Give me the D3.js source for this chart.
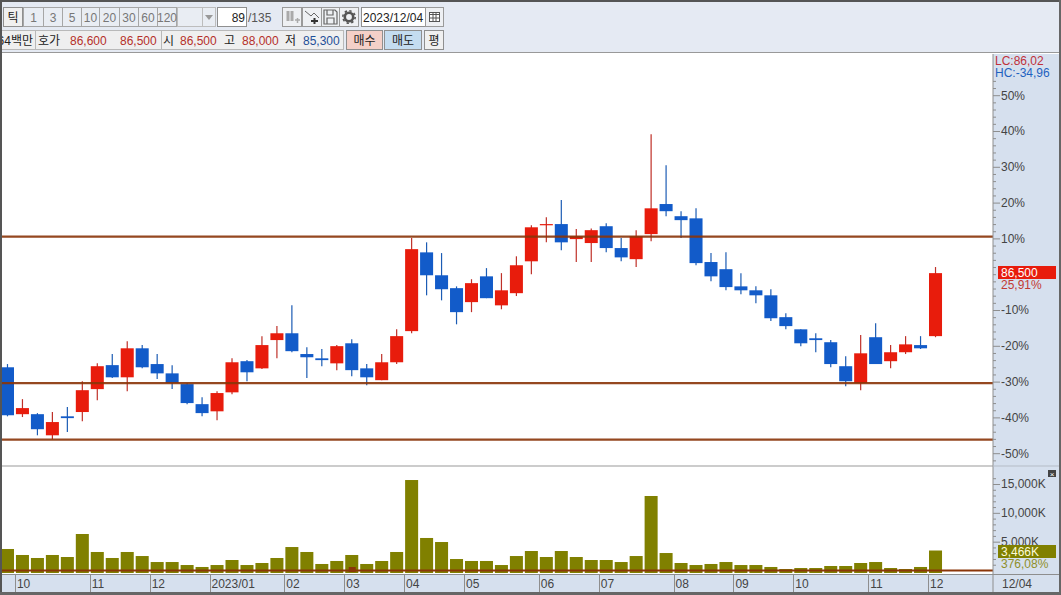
<!DOCTYPE html>
<html lang="ko"><head><meta charset="utf-8">
<script src="https://cdnjs.cloudflare.com/ajax/libs/d3/7.8.5/d3.min.js"></script>
<style>
html,body{margin:0;padding:0;background:#fff;overflow:hidden}
svg{display:block}
text{font-family:"Liberation Sans","Noto Sans CJK KR",sans-serif;font-size:12px;fill:#444}
</style></head><body>
<svg id="c" width="1061" height="595"></svg>
<script>
const highs=[-25.1,-34.9,-38.8,-38.5,-37.1,-29.9,-24.9,-22.3,-18.7,-19.8,-22.3,-25.4,-30.4,-34.4,-32.7,-23.5,-24.0,-17.3,-14.5,-8.7,-20.4,-20.9,-19.8,-18.2,-25.1,-22.3,-15.4,10.1,8.9,5.9,-3.4,-1.4,1.7,0.3,5.0,13.7,15.9,20.7,12.6,12.8,14.2,10.1,12.3,39.1,30.4,17.6,18.4,5.9,6.1,0.3,-3.4,-4.2,-10.9,-15.4,-16.5,-18.4,-22.9,-17.0,-13.7,-19.8,-17.3,-17.3,2.0];
const lows=[-39.7,-39.9,-45.0,-46.1,-44.1,-41.1,-35.2,-29.0,-32.7,-26.3,-29.3,-32.1,-36.3,-39.7,-40.8,-33.5,-29.9,-26.5,-23.5,-21.8,-29.0,-25.7,-26.8,-28.5,-31.0,-29.6,-25.1,-16.5,-5.9,-7.3,-14.0,-10.6,-6.7,-9.8,-6.1,0,8.9,6.7,3.4,3.4,6.1,3.6,2.0,9.2,16.2,10.1,2.5,-2.0,-4.5,-5.6,-8.1,-13.1,-15.4,-20.1,-21.8,-26.0,-31.3,-32.4,-25.1,-26.3,-22.3,-20.9,-17.6];
const opens=[-26.0,-39.1,-39.1,-45.0,-39.7,-38.5,-32.1,-25.4,-28.8,-20.7,-25.1,-27.7,-30.7,-36.3,-38.3,-33.0,-24.3,-26.3,-18.4,-16.5,-22.3,-23.5,-24.9,-19.3,-26.3,-29.6,-24.6,-15.9,6.1,-0.3,-3.9,-7.8,-0.6,-8.7,-5.3,3.6,13.7,14.0,9.8,8.7,13.4,7.3,4.2,11.2,19.6,16.2,15.6,3.4,1.4,-3.4,-4.5,-5.9,-12.0,-15.4,-17.9,-19.0,-25.7,-30.4,-17.6,-24.3,-21.8,-19.8,-17.3];
const closes=[-39.4,-37.4,-43.3,-41.3,-40.2,-32.4,-25.7,-28.8,-20.7,-26.0,-27.7,-30.4,-36.0,-38.8,-33.2,-24.6,-27.4,-19.8,-16.5,-21.5,-23.2,-24.0,-20.1,-26.8,-28.8,-24.6,-17.3,7.0,-0.3,-4.2,-10.6,-2.5,-6.7,-4.5,2.5,13.1,14.0,8.9,10.6,12.3,7.3,4.7,10.6,18.4,17.6,15.1,3.1,-0.6,-3.6,-4.5,-5.9,-12.3,-14.5,-19.3,-18.4,-25.1,-29.9,-22.1,-25.1,-21.8,-19.6,-20.7,0.3];
const volumes=[3730,2690,2170,2690,2340,6330,3210,2170,3210,2510,1470,1470,950,610,950,1820,950,1300,2170,4070,3210,1130,1650,2690,1130,1650,3210,15690,5640,4940,1990,1650,1650,950,2510,3380,2340,3380,2340,1820,1820,1470,2510,12920,3030,1300,950,1130,1470,950,950,610,260,430,430,780,780,1300,1470,430,260,610,3466];
const levelLines=[10.5,-30.4,-46.2];
const volumeLevel=[0];
const pctTicks=[50,40,30,20,10,-10,-20,-30,-40,-50];
const volTicks=[15000,10000,5000];
const monthIdx=[1,6,10,14,19,23,27,31,36,40,45,49,53,58,62];
const monthLabels=["10","11","12","2023/01","02","03","04","05","06","07","08","09","10","11","12"];
const periodLabels=["1","3","5","10","20","30","60","120"];

const RED="#e81c0c",BLUE="#125bc9",WRED="#bf3028",WBLUE="#1c5cb4",OLIVE="#808000",BROWN="#8a3508",PANEL="#d6e0ee",TOOL="#e5eaf3",GRAY="#8e8e8e";
const svg=d3.select("#c");
const rect=(g,x,y,w,h,f,s)=>g.append("rect").attr("x",x).attr("y",y).attr("width",w).attr("height",h).attr("fill",f).attr("stroke",s||"none");
const txt=(g,x,y,t,f,a,size)=>{const e=g.append("text").attr("x",x).attr("y",y).text(t).style("fill",f||"#444").attr("text-anchor",a||"start");if(size)e.style("font-size",size+"px");return e;};

const L=2,R=993,T1=54,B1=465,T2=467,B2=573;
const x=d3.scaleBand().domain(d3.range(highs.length)).range([0,943]).paddingInner(0.13).paddingOuter(0.065);
const xc=i=>x(i)+x.bandwidth()/2;
const y=d3.scaleLinear().domain([0,50]).range([274.2,95.2]);
const yV=d3.scaleLinear().domain([0,15000]).range([570.5,484]);
const vBase=yV.invert(B2);

// background
rect(svg,0,0,1061,595,"#fff");
rect(svg,0,0,1061,53,TOOL);
rect(svg,R,T1,1061-R,540-T1+60,PANEL);
rect(svg,0,574,1061,20,PANEL);
svg.append("defs").append("clipPath").attr("id","cp1").append("rect").attr("x",L).attr("y",T1).attr("width",R-L).attr("height",B1-T1);
d3.select("defs").append("clipPath").attr("id","cp2").append("rect").attr("x",L).attr("y",T2).attr("width",R-L).attr("height",B2-T2);

// candles
const pane=svg.append("g").attr("clip-path","url(#cp1)");
const idx=d3.range(highs.length);
const isUp=i=>closes[i]>=opens[i];
pane.selectAll("line.w").data(idx).join("line").attr("class","w")
 .attr("x1",xc).attr("x2",xc).attr("y1",i=>y(highs[i])).attr("y2",i=>y(lows[i]))
 .attr("stroke",i=>isUp(i)?WRED:WBLUE).attr("stroke-width",1.2);
pane.selectAll("rect.b").data(idx).join("rect").attr("class","b")
 .attr("x",i=>x(i)).attr("width",x.bandwidth())
 .attr("y",i=>y(Math.max(opens[i],closes[i])))
 .attr("height",i=>Math.max(1.2,Math.abs(y(opens[i])-y(closes[i]))))
 .attr("fill",i=>isUp(i)?RED:BLUE);
pane.selectAll("line.l").data(levelLines).join("line").attr("class","l")
 .attr("x1",L).attr("x2",R).attr("y1",y).attr("y2",y)
 .attr("stroke",BROWN).attr("stroke-width",2.2).attr("opacity",.9);

// volume
const vp=svg.append("g").attr("clip-path","url(#cp2)");
vp.selectAll("rect.v").data(idx).join("rect").attr("class","v")
 .attr("x",i=>x(i)).attr("width",x.bandwidth())
 .attr("y",i=>yV(volumes[i])).attr("height",i=>yV(vBase)-yV(volumes[i]))
 .attr("fill",OLIVE);
vp.selectAll("line.l").data(volumeLevel).join("line").attr("class","l")
 .attr("x1",L).attr("x2",R).attr("y1",yV).attr("y2",yV)
 .attr("stroke",BROWN).attr("stroke-width",2.2);
rect(vp,x(23)+3.5,567,7,5,BROWN);

// right axes
const axisG=svg.append("g").attr("class","ax");
const styleAxis=g=>{g.select(".domain").remove();g.selectAll("line").attr("stroke",GRAY);g.selectAll("text").style("fill","#444").style("font-size","12px");};
axisG.append("g").attr("transform",`translate(${R},0)`)
 .call(d3.axisRight(y).tickValues(d3.range(-52,56,2).filter(v=>v%10!==0||v===0)).tickSize(3).tickFormat(""))
 .call(styleAxis);
axisG.append("g").attr("transform",`translate(${R},0)`)
 .call(d3.axisRight(y).tickValues(pctTicks).tickSize(7).tickPadding(1).tickFormat(d=>d+"%"))
 .call(styleAxis);
axisG.append("g").attr("transform",`translate(${R},0)`)
 .call(d3.axisRight(yV).tickValues(d3.range(0,17000,1000).filter(v=>v%5000!==0)).tickSize(3).tickFormat(""))
 .call(styleAxis);
axisG.append("g").attr("transform",`translate(${R},0)`)
 .call(d3.axisRight(yV).tickValues(volTicks).tickSize(7).tickPadding(1).tickFormat(d=>d3.format(",")(d)+"K"))
 .call(styleAxis);
svg.append("line").attr("x1",R).attr("x2",R).attr("y1",T1).attr("y2",592).attr("stroke",GRAY);

// price & volume flags
rect(svg,998,266,58,13,RED);
txt(svg,1001,277,"86,500","#fff");
txt(svg,1001,289,"25,91%","#c23a34");
rect(svg,998,545,58,13,OLIVE);
txt(svg,1001,556,"3,466K","#fbfbd8");
txt(svg,1001,568,"376,08%","#8f8f2a");
txt(svg,995,65,"LC:86,02","#c0303a");
txt(svg,995,77,"HC:-34,96","#1f62c0");
rect(svg,1048,470,8,7,"#444");
txt(svg,1052,476.5,"×","#fff","middle",8);

// date strip
svg.append("line").attr("x1",0).attr("x2",1061).attr("y1",574.5).attr("y2",574.5).attr("stroke",GRAY);
svg.selectAll("line.m").data(monthIdx).join("line").attr("class","m")
 .attr("x1",i=>Math.round(x(i))-.5).attr("x2",i=>Math.round(x(i))-.5).attr("y1",575).attr("y2",592).attr("stroke",GRAY);
svg.selectAll("text.m").data(monthIdx).join("text").attr("class","m")
 .attr("x",i=>x(i)+1).attr("y",588).text((d,i)=>monthLabels[i]);
txt(svg,1002,588,"12/04");

// pane separators
svg.append("line").attr("x1",0).attr("x2",1061).attr("y1",52.5).attr("y2",52.5).attr("stroke","#999");
svg.append("line").attr("x1",0).attr("x2",R).attr("y1",466).attr("y2",466).attr("stroke","#999");
svg.append("line").attr("x1",R).attr("x2",1061).attr("y1",466).attr("y2",466).attr("stroke","#b5bcc6");

// toolbar
const tb=svg.append("g");
const btn=(x0,y0,w,h,t,opt={})=>{rect(tb,x0+.5,y0+.5,w-1,h-1,opt.fill||"#f0f0f0",opt.stroke||"#8f8f8f");if(t)txt(tb,x0+w/2,y0+h-5,t,opt.color||"#222","middle",opt.size);};
btn(3,7,20,20,"틱");
const per=[23,43,62,81,99,119,138,157,176];
periodLabels.forEach((t,i)=>btn(per[i],7,per[i+1]-per[i]+1,20,t,{fill:"#e9edf3",stroke:"#a6a6a6",color:"#777"}));
rect(tb,177.5,7.5,25,19,"#e9edf3","#bdbdbd");
rect(tb,202.5,7.5,13,19,"#e9edf3","#bdbdbd");
tb.append("path").attr("d","M205,15h8l-4,5z").attr("fill","#999");
rect(tb,217.5,7.5,29,19,"#fff","#8f8f8f");
txt(tb,245,22,"89","#222","end");
txt(tb,248,22,"/135","#555");
[282,302,321,339].forEach(a=>rect(tb,a+.5,7.5,19,19,"#eef0f3","#9a9a9a"));
tb.append("path").attr("d","M288,11v10M292,11v10").attr("stroke","#aaa").attr("stroke-width",3);
tb.append("path").attr("d","M295,20h5M297.5,18v5").attr("stroke","#aaa").attr("stroke-width",1.5);
tb.append("path").attr("d","M305,11l6,5 3,-3 5,5").attr("stroke","#666").attr("fill","none");
tb.append("path").attr("d","M311,21h7M314.5,18v6").attr("stroke","#333").attr("stroke-width",2);
tb.append("path").attr("d","M324,10h11l2,2v12h-13zM327,10v5h6v-5M327,24v-6h7v6").attr("stroke","#666").attr("stroke-width",1.2).attr("fill","none");
tb.append("circle").attr("cx",349).attr("cy",17).attr("r",4.2).attr("fill","none").attr("stroke","#555").attr("stroke-width",2.6);
tb.append("circle").attr("cx",349).attr("cy",17).attr("r",6.2).attr("fill","none").attr("stroke","#555").attr("stroke-width",1.6).attr("stroke-dasharray","2.4 2.4");
rect(tb,361.5,7.5,64,19,"#fff","#8f8f8f");
txt(tb,363,22,"2023/12/04","#222");
rect(tb,425.5,7.5,18,19,"#eef0f3","#9a9a9a");
rect(tb,429.5,12.5,10,9,"#fff","#555");
tb.append("path").attr("d","M430,14.5h9M433,13v8M436,13v8M430,18h9").attr("stroke","#555");

// second row
rect(tb,2,30,341,20,"#efefef","none");
tb.append("path").attr("d","M35.5,30v20M161.5,30v20M2,30.5h341M2,49.5h341M343.5,30v20").attr("stroke","#b9b9b9").attr("fill","none");
const clipRow=tb.append("g");
d3.select("defs").append("clipPath").attr("id","cp3").append("rect").attr("x",2).attr("y",30).attr("width",33).attr("height",20);
clipRow.attr("clip-path","url(#cp3)");
txt(clipRow,33,45,"64백만","#222","end");
txt(tb,38,45,"호가","#222");
const VR="#b5302a",VB="#1f4f98";
txt(tb,70,45,"86,600",VR);
txt(tb,120,45,"86,500",VR);
txt(tb,163,45,"시","#222");
txt(tb,180,45,"86,500",VR);
txt(tb,224,45,"고","#222");
txt(tb,242,45,"88,000",VR);
txt(tb,285,45,"저","#222");
txt(tb,303,45,"85,300",VB);
btn(346,30,37,20,"매수",{fill:"#f4d0c8"});
btn(384,30,38,20,"매도",{fill:"#c4dcf0"});
btn(424,30,20,20,"평",{fill:"#f0f0f0"});

// window frame
rect(svg,0,0,1061,2,"#555");
rect(svg,0,0,2,595,"#555");
rect(svg,1059,0,2,595,"#666");
rect(svg,0,592,1061,3,"#666");
</script></body></html>
